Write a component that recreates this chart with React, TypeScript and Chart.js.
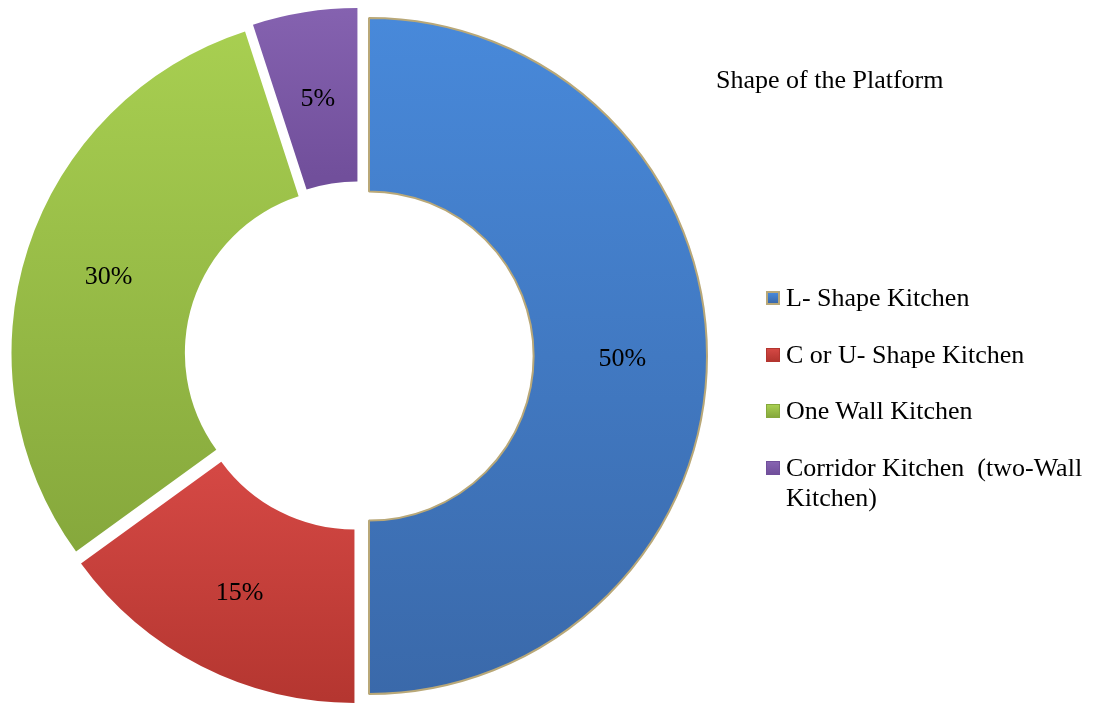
import React, { useEffect, useRef } from "react";
import { Chart, DoughnutController, ArcElement, registerables } from "chart.js";

Chart.register(...registerables);

// ---- data ----
const categories = [
  "L- Shape Kitchen",
  "C or U- Shape Kitchen",
  "One Wall Kitchen",
  "Corridor Kitchen  (two-Wall Kitchen)",
];
const legendLines = [
  ["L- Shape Kitchen"],
  ["C or U- Shape Kitchen"],
  ["One Wall Kitchen"],
  ["Corridor Kitchen  (two-Wall", "Kitchen)"],
];
const values = [50, 15, 30, 5];
const valueLabels = values.map((v) => `${v}%`);
const chartTitle = "Shape of the Platform";

// ---- style ----
const EXPLODE = 10;
const lightColors = ["#4889DA", "#D44844", "#A8CF51", "#8663B1"];
const darkColors = ["#3A69AA", "#B3352F", "#86A83C", "#714F9B"];
const gradRanges = [
  [18, 694],
  [460, 704],
  [30, 555],
  [8, 186],
];
const borderColors = ["#B9A878", "rgba(0,0,0,0)", "rgba(0,0,0,0)", "rgba(0,0,0,0)"];
const borderWidths = [2, 0, 0, 0];
const FONT = "'Liberation Serif', 'Times New Roman', serif";
const FONT_SIZE = 26;

class ExplodedArc extends ArcElement {
  static id = "explodedArc";
  draw(ctx: CanvasRenderingContext2D) {
    const self: any = this;
    const mid = (self.startAngle + self.endAngle) / 2;
    ctx.save();
    ctx.translate(Math.cos(mid) * EXPLODE, Math.sin(mid) * EXPLODE);
    super.draw(ctx);
    ctx.restore();
  }
}

class ExplodedDoughnut extends DoughnutController {
  static id = "explodedDoughnut";
  static defaults = { ...(DoughnutController as any).defaults, dataElementType: "explodedArc" };
}

Chart.register(ExplodedArc as any, ExplodedDoughnut as any);

const sliceLabels = {
  id: "sliceLabels",
  afterDatasetsDraw(chart: any) {
    const ctx = chart.ctx;
    const meta = chart.getDatasetMeta(0);
    ctx.save();
    ctx.font = `${FONT_SIZE}px ${FONT}`;
    ctx.fillStyle = "#000";
    ctx.textAlign = "center";
    ctx.textBaseline = "middle";
    meta.data.forEach((el: any, i: number) => {
      const p = el.getProps(["x", "y", "startAngle", "endAngle", "innerRadius", "outerRadius"], true);
      const mid = (p.startAngle + p.endAngle) / 2;
      const r = (p.innerRadius + p.outerRadius) / 2 + EXPLODE + 2;
      ctx.fillText(valueLabels[i], p.x + Math.cos(mid) * r, p.y + Math.sin(mid) * r + 3);
    });
    ctx.restore();
  },
};

export default function App() {
  const canvasRef = useRef<HTMLCanvasElement | null>(null);

  useEffect(() => {
    if (!canvasRef.current) return;
    const chart = new Chart(canvasRef.current, {
      type: "explodedDoughnut" as any,
      data: {
        labels: categories,
        datasets: [
          {
            data: values,
            backgroundColor: (c: any) => {
              const i = c.dataIndex;
              const { ctx } = c.chart;
              const [y0, y1] = gradRanges[i];
              const g = ctx.createLinearGradient(0, y0, 0, y1);
              g.addColorStop(0, lightColors[i]);
              g.addColorStop(1, darkColors[i]);
              return g;
            },
            borderColor: borderColors,
            borderWidth: borderWidths,
            offset: 0,
          } as any,
        ],
      },
      options: {
        animation: false,
        responsive: true,
        maintainAspectRatio: false,
        radius: 338,
        cutout: 169,
        layout: { padding: { left: 0, right: 380, top: 8, bottom: 0 } },
        plugins: {
          legend: { display: false },
          tooltip: { enabled: false },
          title: { display: false },
        },
      } as any,
      plugins: [sliceLabels],
    });
    return () => chart.destroy();
  }, []);

  const textStyle: React.CSSProperties = {
    position: "absolute",
    fontFamily: FONT,
    fontSize: FONT_SIZE,
    lineHeight: "30px",
    color: "#000",
    whiteSpace: "pre",
  };
  const rowBaselines = [307, 364, 420, 477];

  return (
    <div
      style={{
        position: "fixed",
        left: 0,
        top: 0,
        width: 1098,
        height: 704,
        background: "#fff",
        overflow: "hidden",
      }}
    >
      <div style={{ position: "absolute", left: 0, top: 0, width: 1098, height: 704 }}>
        <canvas ref={canvasRef} />
      </div>
      <div style={{ ...textStyle, left: 716, top: 89 - 24 }}>{chartTitle}</div>
      {legendLines.map((lines, i) => (
        <React.Fragment key={i}>
          <div
            style={{
              position: "absolute",
              left: 766,
              top: rowBaselines[i] - 16,
              width: 14,
              height: 14,
              boxSizing: "border-box",
              background: `linear-gradient(180deg, ${lightColors[i]}, ${darkColors[i]})`,
              border: i === 0 ? `2px solid ${borderColors[0]}` : `1px solid ${darkColors[i]}`,
            }}
          />
          <div style={{ ...textStyle, left: 786, top: rowBaselines[i] - 24 }}>
            {lines.join("\n")}
          </div>
        </React.Fragment>
      ))}
    </div>
  );
}
